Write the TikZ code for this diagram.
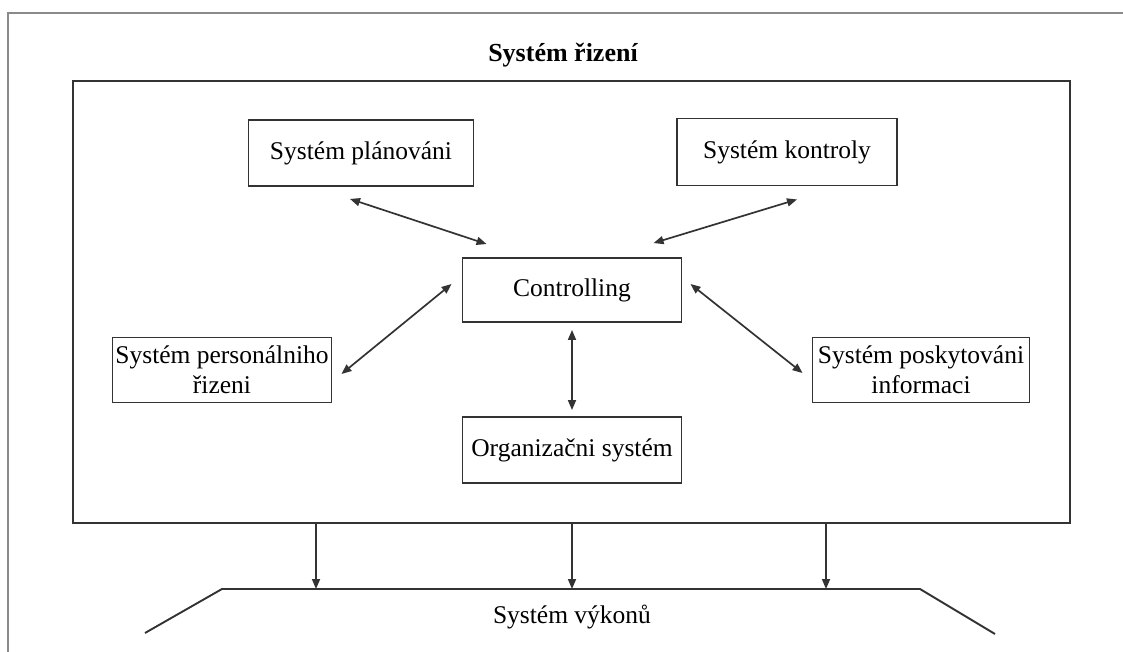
\documentclass[tikz,border=0pt]{standalone}
\usepackage{fontspec}
\setmainfont{Liberation Serif}
\usetikzlibrary{arrows.meta,calc}
\definecolor{ln}{HTML}{333333}
\definecolor{frm}{HTML}{8A8A8A}
\tikzset{
  box/.style={draw=ln,line width=1.9pt,fill=white,inner sep=0pt,align=center,
    font=\fontsize{25.5}{30}\selectfont},
  arr/.style={draw=ln,line width=1.7pt,-{Triangle[length=10pt,width=8pt]}},
  darr/.style={draw=ln,line width=1.7pt,{Triangle[length=10pt,width=8pt]}-{Triangle[length=10pt,width=8pt]}},
  txt/.style={font=\fontsize{25.5}{30}\selectfont,inner sep=0pt}
}
\begin{document}
\begin{tikzpicture}[x=1pt,y=-1pt]
\useasboundingbox (0,0) rectangle (1123,652);
% outer frame
\draw[frm,line width=2.5pt] (8,652) -- (8,13) -- (1123,13);
% title
\node[txt,font=\bfseries\fontsize{26}{30}\selectfont] (title) at (563,55) {Systém řizení};
% main box
\node[draw=ln,line width=1.9pt,minimum width=997pt,minimum height=442pt,inner sep=0pt] (sys) at (571.5,302) {};
% inner boxes
\node[box,minimum width=225pt,minimum height=66pt] (plan) at (361,153) {Systém plánováni};
\node[box,minimum width=220pt,minimum height=67pt] (kontr) at (787,152) {Systém kontroly};
\node[box,minimum width=219pt,minimum height=64pt] (ctrl) at (572,290) {Controlling};
\node[box,minimum width=219pt,minimum height=65pt] (pers) at (222,370) {Systém personálniho\\řizeni};
\node[box,minimum width=217pt,minimum height=65pt] (posk) at (921,370) {Systém poskytováni\\informaci};
\node[box,minimum width=219pt,minimum height=66pt] (org) at (572,450) {Organizačni systém};
% double arrows
\draw[darr] ($(plan.south)+(-11,12)$) -- ($(ctrl.north west)+(25,-13)$);
\draw[darr] ($(kontr.south)+(10,13)$) -- ($(ctrl.north west)+(192,-14)$);
\draw[darr] ($(pers.east)+(9,4)$) -- ($(ctrl.west)+(-10,-6)$);
\draw[darr] ($(ctrl.east)+(8,-6)$) -- ($(posk.west)+(-9,3)$);
\draw[darr] ($(ctrl.south)+(0,7)$) -- ($(org.north)+(0,-6)$);
% bottom trapezoid
\coordinate (bl) at (145,633);
\coordinate (tl) at (222,589);
\coordinate (tr) at (920,589);
\coordinate (br) at (995,634);
\draw[ln,line width=1.9pt] (bl) -- (tl) -- (tr) -- (br);
\node[txt] (vyk) at (572,617) {Systém výkonů};
% down arrows
\coordinate (d1) at (316,589);
\coordinate (d2) at (572,589);
\coordinate (d3) at (826,589);
\draw[arr] (sys.south -| d1) -- (d1);
\draw[arr] (sys.south -| d2) -- (d2);
\draw[arr] (sys.south -| d3) -- (d3);
\end{tikzpicture}
\end{document}
